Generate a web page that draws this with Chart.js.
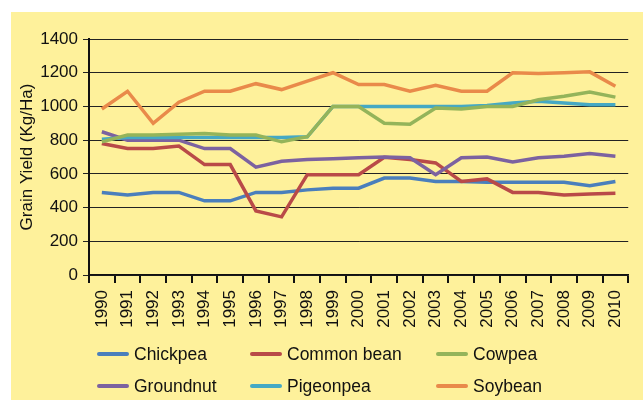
<!DOCTYPE html>
<html>
<head>
<meta charset="utf-8">
<script src="https://cdn.jsdelivr.net/npm/chart.js@4"></script>
<style>
  html, body { margin: 0; padding: 0; background: #fff; }
  body { width: 643px; height: 400px; position: relative; overflow: hidden; font-family: "Liberation Sans", Arial, sans-serif; }
  #panel { position: absolute; left: 11px; top: 12px; width: 632px; height: 388px; background: #fef19b; }
  #panel canvas { position: absolute; left: 0; top: 0; }
  #legend {
    position: absolute; left: 86px; top: 326px;
    display: grid; grid-template-columns: 153px 186px 160px; grid-auto-rows: 32px;
  }
  .item { display: flex; align-items: center; font-size: 17.5px; color: #111; }
  .item span.swatch { display: inline-block; width: 32px; height: 4px; margin-right: 5px; border-radius: 2px; }
</style>
</head>
<body>
<div id="panel">
  <canvas id="chart" width="632" height="388"></canvas>
  <div id="legend"></div>
</div>
<script>
const years = ['1990', '1991', '1992', '1993', '1994', '1995', '1996', '1997', '1998', '1999', '2000',
  '2001', '2002', '2003', '2004', '2005', '2006', '2007', '2008', '2009', '2010'];

const chickpea   = [490, 475, 490, 490, 440, 440, 490, 490, 505, 515, 515, 575, 575, 555, 555, 550, 550, 550, 550, 530, 555];
const commonBean = [780, 750, 750, 765, 655, 655, 380, 345, 595, 595, 595, 698, 685, 665, 555, 570, 490, 490, 475, 480, 485];
const cowpea     = [790, 830, 830, 835, 840, 830, 830, 790, 820, 1000, 1000, 900, 895, 990, 985, 1000, 1000, 1040, 1060, 1085, 1055];
const groundnut  = [850, 800, 800, 800, 750, 750, 640, 675, 685, 690, 695, 700, 695, 595, 695, 700, 670, 695, 705, 720, 705];
const pigeonpea  = [805, 815, 815, 815, 815, 815, 815, 815, 820, 1000, 1000, 1000, 1000, 1000, 1000, 1005, 1020, 1030, 1020, 1010, 1010];
const soybean    = [985, 1090, 900, 1025, 1090, 1090, 1135, 1100, 1150, 1200, 1130, 1130, 1090, 1125, 1090, 1090, 1200, 1195, 1200, 1205, 1120];

const yTicks = [0, 200, 400, 600, 800, 1000, 1200, 1400];

// legend order as in the figure
const series = [
  { name: 'Chickpea',    data: chickpea,   color: '#4a7fbc', order: 5 },
  { name: 'Common bean', data: commonBean, color: '#b94a48', order: 4 },
  { name: 'Cowpea',      data: cowpea,     color: '#94b45a', order: 1 },
  { name: 'Groundnut',   data: groundnut,  color: '#7c62a0', order: 3 },
  { name: 'Pigeonpea',   data: pigeonpea,  color: '#45a9c4', order: 2 },
  { name: 'Soybean',     data: soybean,    color: '#e98a4a', order: 0 }
];

const font = { family: '"Liberation Sans", Arial, sans-serif', size: 17 };
const ink = '#111';

new Chart(document.getElementById('chart'), {
  type: 'line',
  data: {
    labels: years,
    datasets: series.map(s => ({
      label: s.name,
      data: s.data,
      borderColor: s.color,
      backgroundColor: s.color,
      borderWidth: 3.5,
      pointRadius: 0,
      tension: 0,
      order: s.order
    }))
  },
  options: {
    responsive: false,
    animation: false,
    layout: { padding: { top: 27, right: 8, bottom: 65, left: 0 } },
    plugins: { legend: { display: false }, tooltip: { enabled: false } },
    scales: {
      x: {
        offset: true,
        grid: { display: true, drawOnChartArea: false, color: '#111', lineWidth: 2, tickLength: 8, offset: true },
        border: { color: '#111', width: 1.5 },
        ticks: { color: ink, font, minRotation: 90, maxRotation: 90, padding: 7, autoSkip: false },
        afterFit: s => { s.height = 60; }
      },
      y: {
        min: 0,
        max: 1400,
        afterBuildTicks: s => { s.ticks = yTicks.map(v => ({ value: v })); },
        grid: { color: '#222', lineWidth: 1, tickLength: 6 },
        border: { color: '#111', width: 2 },
        ticks: { color: ink, font, padding: 5, callback: v => String(v) },
        title: { display: true, text: 'Grain Yield (Kg/Ha)', color: ink, font, padding: { top: 6, bottom: 0 } },
        afterFit: s => { s.width = 78; }
      }
    }
  }
});

const legend = document.getElementById('legend');
series.forEach(s => {
  const item = document.createElement('div');
  item.className = 'item';
  item.innerHTML = '<span class="swatch" style="background:' + s.color + '"></span>' + s.name;
  legend.appendChild(item);
});
</script>
</body>
</html>
